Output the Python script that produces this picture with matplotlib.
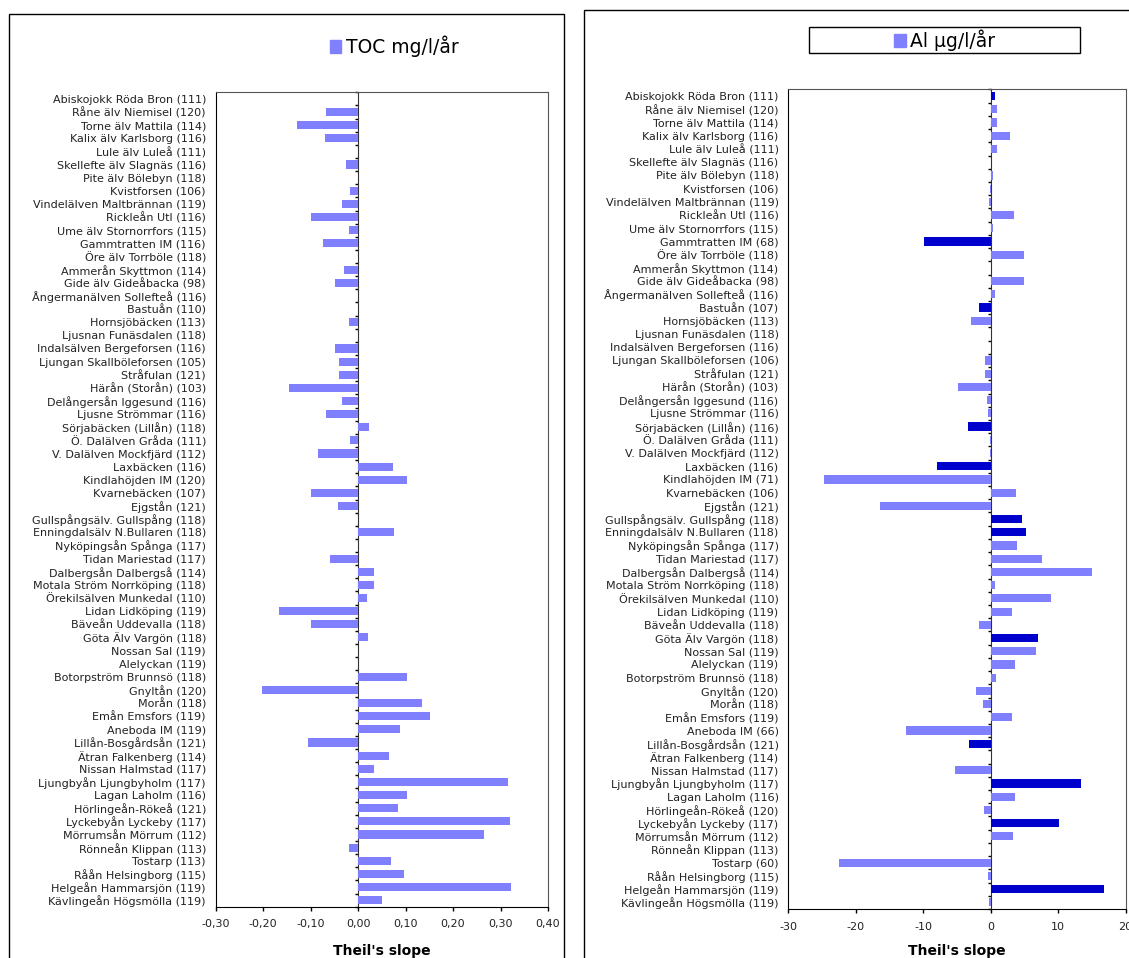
import matplotlib
matplotlib.use("Agg")
import matplotlib.pyplot as plt
import numpy as np
from matplotlib.patches import Rectangle

# site names (left chart: TOC, right chart: Al) - only the n in parentheses differs
sites = ['Abiskojokk Röda Bron', 'Råne älv Niemisel', 'Torne älv Mattila', 'Kalix älv Karlsborg',
         'Lule älv Luleå', 'Skellefte älv Slagnäs', 'Pite älv Bölebyn', 'Kvistforsen',
         'Vindelälven Maltbrännan', 'Rickleån Utl', 'Ume älv Stornorrfors', 'Gammtratten IM',
         'Öre älv Torrböle', 'Ammerån Skyttmon', 'Gide älv Gideåbacka', 'Ångermanälven Sollefteå',
         'Bastuån', 'Hornsjöbäcken', 'Ljusnan Funäsdalen', 'Indalsälven Bergeforsen',
         'Ljungan Skallböleforsen', 'Stråfulan', 'Härån (Storån)', 'Delångersån Iggesund',
         'Ljusne Strömmar', 'Sörjabäcken (Lillån)', 'Ö. Dalälven Gråda', 'V. Dalälven Mockfjärd',
         'Laxbäcken', 'Kindlahöjden IM', 'Kvarnebäcken', 'Ejgstån',
         'Gullspångsälv. Gullspång', 'Enningdalsälv N.Bullaren', 'Nyköpingsån Spånga', 'Tidan Mariestad',
         'Dalbergsån Dalbergså', 'Motala Ström Norrköping', 'Örekilsälven Munkedal', 'Lidan Lidköping',
         'Bäveån Uddevalla', 'Göta Älv Vargön', 'Nossan Sal', 'Alelyckan',
         'Botorpström Brunnsö', 'Gnyltån', 'Morån', 'Emån Emsfors',
         'Aneboda IM', 'Lillån-Bosgårdsån', 'Ätran Falkenberg', 'Nissan Halmstad',
         'Ljungbyån Ljungbyholm', 'Lagan Laholm', 'Hörlingeån-Rökeå', 'Lyckebyån Lyckeby',
         'Mörrumsån Mörrum', 'Rönneån Klippan', 'Tostarp', 'Råån Helsingborg',
         'Helgeån Hammarsjön', 'Kävlingeån Högsmölla']

toc_n = [111, 120, 114, 116, 111, 116, 118, 106, 119, 116, 115, 116, 118, 114, 98, 116,
         110, 113, 118, 116, 105, 121, 103, 116, 116, 118, 111, 112, 116, 120, 107, 121,
         118, 118, 117, 117, 114, 118, 110, 119, 118, 118, 119, 119, 118, 120, 118, 119,
         119, 121, 114, 117, 117, 116, 121, 117, 112, 113, 113, 115, 119, 119]

al_n = [111, 120, 114, 116, 111, 116, 118, 106, 119, 116, 115, 68, 118, 114, 98, 116,
        107, 113, 118, 116, 106, 121, 103, 116, 116, 116, 111, 112, 116, 71, 106, 121,
        118, 118, 117, 117, 114, 118, 110, 119, 118, 118, 119, 119, 118, 120, 118, 119,
        66, 121, 114, 117, 117, 116, 120, 117, 112, 113, 60, 115, 119, 119]

# Theil's slope, TOC mg/l/år
toc_slope = [0.0, -0.067, -0.128, -0.069, 0.0, -0.025, 0.0, -0.017, -0.033, -0.100,
             -0.019, -0.074, 0.0, -0.030, -0.048, 0.0, 0.0, -0.019, 0.0, -0.048,
             -0.040, -0.040, -0.146, -0.033, -0.067, 0.023, -0.017, -0.084, 0.074, 0.104,
             -0.100, -0.042, 0.0, 0.076, 0.0, -0.059, 0.034, 0.034, 0.019, -0.166,
             -0.100, 0.020, 0.0, 0.0, 0.104, -0.202, 0.135, 0.152, 0.088, -0.106,
             0.065, 0.034, 0.316, 0.104, 0.084, 0.320, 0.265, -0.019, 0.070, 0.096,
             0.323, 0.050]

# Theil's slope, Al µg/l/år (dark bars = significant trend)
al_slope = [0.7, 1.0, 1.0, 2.8, 1.0, 0.0, 0.3, -0.1, -0.3, 3.5,
            0.3, -9.9, 5.0, 0.0, 5.0, 0.7, -1.7, -2.9, 0.1, 0.0,
            -0.8, -0.8, -4.8, -0.6, -0.4, -3.4, -0.1, -0.1, -7.9, -24.7,
            3.7, -16.4, 4.6, 5.2, 3.9, 7.6, 15.0, 0.6, 8.9, 3.2,
            -1.7, 7.0, 6.7, 3.6, 0.8, -2.2, -1.1, 3.2, -12.6, -3.2,
            0.0, -5.3, 13.4, 3.6, -1.0, 10.1, 3.3, 0.0, -22.5, -0.4,
            16.8, -0.3]
al_sig = [1, 0, 0, 0, 0, 0, 0, 0, 0, 0,
          0, 1, 0, 0, 0, 0, 1, 0, 0, 0,
          0, 0, 0, 0, 0, 1, 0, 0, 1, 0,
          0, 0, 1, 1, 0, 0, 0, 0, 0, 0,
          0, 1, 0, 0, 0, 0, 0, 0, 0, 1,
          0, 0, 1, 0, 0, 1, 0, 0, 0, 0,
          1, 0]

LIGHT = '#8080FF'
DARK = '#0000CC'
W, H = 1129, 958
LABEL_FONT = {'family': 'DejaVu Sans', 'size': 8.0}


def px_axes(x0, y0, x1, y1):
    # pixel box (top-left origin) -> figure fraction rect
    return [x0 / W, 1 - y1 / H, (x1 - x0) / W, (y1 - y0) / H]


def draw_panel(ax, values, ns, colors, xlim, xticks, fmt):
    y = np.arange(len(values))
    bars = ax.barh(y, values, height=0.62, color=colors, zorder=2)
    ax.set_xlim(*xlim)
    ax.set_ylim(len(values) - 0.5, -0.5)
    ax.set_yticks(y)
    ax.set_yticklabels([f'{s} ({n})' for s, n in zip(sites, ns)],
                       fontdict=LABEL_FONT, color='#222222')
    ax.tick_params(axis='y', length=0, pad=7)
    ax.set_xticks(xticks)
    ax.set_xticklabels([fmt(v) for v in xticks], fontdict=LABEL_FONT, color='#222222')
    ax.tick_params(axis='x', direction='out', length=3, width=1, pad=6)
    for side in ['top', 'right']:
        ax.spines[side].set_color('#555555')
    for side in ['left', 'bottom']:
        ax.spines[side].set_color('black')
    # zero line with category-boundary ticks (Excel-style category axis)
    loc = (0 - xlim[0]) / (xlim[1] - xlim[0])
    zero = ax.secondary_yaxis(loc)
    zero.set_alignment('left')
    zero.set_yticks(np.arange(len(values) + 1) - 0.5)
    zero.tick_params(direction='out', length=2.5, width=1, labelleft=False, labelright=False)
    zero.spines['left'].set_color('#333333')
    return bars


fig = plt.figure(figsize=(W / 100, H / 100), dpi=100)

# chart area frames
fig.add_artist(Rectangle((9 / W, -0.01), (564 - 9) / W, 1 - 14 / H + 0.01,
                         transform=fig.transFigure, fill=False, ec='black', lw=1))
fig.add_artist(Rectangle((584 / W, -0.01), 1 - 584 / W + 0.01, 1 - 10 / H + 0.01,
                         transform=fig.transFigure, fill=False, ec='black', lw=1))

ax1 = fig.add_axes(px_axes(215.7, 92.3, 548, 906.7))
b1 = draw_panel(ax1, toc_slope, toc_n, LIGHT, (-0.30, 0.40),
                np.round(np.arange(-0.3, 0.41, 0.1), 2), lambda v: f'{v:.2f}'.replace('.', ','))

ax2 = fig.add_axes(px_axes(788.3, 89.5, 1125.6, 909))
b2 = draw_panel(ax2, al_slope, al_n, [DARK if s else LIGHT for s in al_sig], (-30, 20),
                np.arange(-30, 21, 10), lambda v: f'{v:.0f}')

fig.text(382 / W, 1 - 951 / H, "Theil's slope", ha='center', va='center',
         fontsize=10, fontweight='bold')
fig.text(957 / W, 1 - 951 / H, "Theil's slope", ha='center', va='center',
         fontsize=10, fontweight='bold')

# legends
h1 = Rectangle((0, 0), 1, 1, color=LIGHT)
fig.legend([h1], ['TOC mg/l/år'], loc='center', bbox_to_anchor=(394 / W, 1 - 46 / H),
           frameon=False, prop={'family': 'DejaVu Sans', 'size': 13.5},
           handlelength=0.6, handleheight=0.7, handletextpad=0.25, borderpad=0)
fig.add_artist(Rectangle((808.5 / W, 1 - 53 / H), (1080 - 808.5) / W, (53 - 27.3) / H,
                         transform=fig.transFigure, fill=False, ec='black', lw=1))
fig.legend([h1], ['Al µg/l/år'], loc='center', bbox_to_anchor=(945 / W, 1 - 40 / H),
           frameon=False, prop={'family': 'DejaVu Sans', 'size': 13.5},
           handlelength=0.6, handleheight=0.7, handletextpad=0.25, borderpad=0)

fig.savefig('out.png', dpi=100)
